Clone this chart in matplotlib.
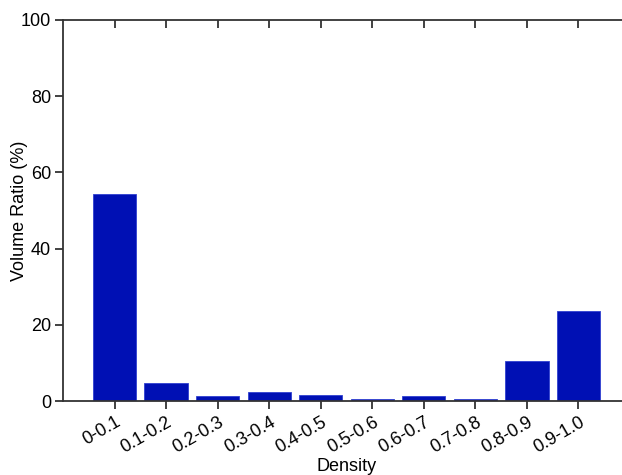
import matplotlib
matplotlib.use("Agg")
import matplotlib.pyplot as plt
import matplotlib.transforms as mtransforms

categories = ["0-0.1", "0.1-0.2", "0.2-0.3", "0.3-0.4", "0.4-0.5",
              "0.5-0.6", "0.6-0.7", "0.7-0.8", "0.8-0.9", "0.9-1.0"]
values = [54.3, 4.7, 1.2, 2.4, 1.7, 0.6, 1.4, 0.4, 10.4, 23.5]
yticks = [0, 20, 40, 60, 80, 100]

plt.rcParams['font.family'] = ['Liberation Sans', 'DejaVu Sans']

fig = plt.figure(figsize=(6.22, 4.75), dpi=100)
W, H = 622, 475
left, right, top, bottom = 63, 630, 20, 401
ax = fig.add_axes([left / W, (H - bottom) / H, (right - left) / W, (bottom - top) / H])

x = list(range(len(categories)))
ax.bar(x, values, width=0.84, color='#0010b4', edgecolor='#3040d0', linewidth=0.6, zorder=2)

ax.set_xlim(-1, 10)
ax.set_ylim(0, 100)
ax.set_yticks(yticks)
ax.set_xticks(x)
ax.tick_params(axis='y', labelsize=13, direction='out', length=6, width=1.3, color='#333333', pad=2.5)
ax.tick_params(axis='x', direction='out', length=6, width=1.3, color='#333333', pad=3)
ax.tick_params(axis='x', which='both', top=True, labeltop=False)
# top ticks inward
for t in ax.xaxis.get_major_ticks():
    t.tick2line.set_marker(matplotlib.lines.TICKDOWN)

ax.set_xticklabels(categories, rotation=30, ha='right', fontsize=13)
offset = mtransforms.ScaledTranslation(9 / 100, 0, fig.dpi_scale_trans)
for lab in ax.get_xticklabels():
    lab.set_transform(lab.get_transform() + offset)

for s in ax.spines.values():
    s.set_color('#333333')
    s.set_linewidth(1.3)

ax.set_xlabel('Density', fontsize=13, labelpad=1)
ax.set_ylabel('Volume Ratio (%)', fontsize=13)
ax.yaxis.set_label_coords(-0.062, 0.5)

fig.savefig('out.png', dpi=100, facecolor='white')
